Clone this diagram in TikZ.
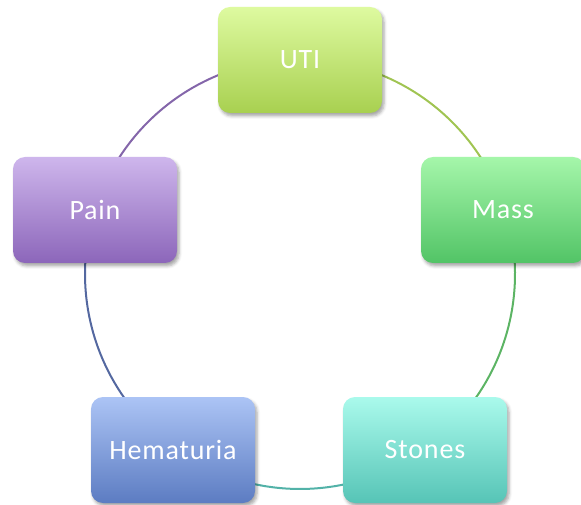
\documentclass[tikz,border=0pt]{standalone}
\usepackage{fontspec}
\setmainfont{Carlito}[LetterSpace=3]
\usetikzlibrary{shadows.blur}
\definecolor{utiT}{RGB}{222,250,160}
\definecolor{utiB}{RGB}{168,208,80}
\definecolor{massT}{RGB}{165,246,170}
\definecolor{massB}{RGB}{82,196,102}
\definecolor{stoT}{RGB}{170,250,236}
\definecolor{stoB}{RGB}{86,196,182}
\definecolor{hemT}{RGB}{172,196,245}
\definecolor{hemB}{RGB}{92,124,194}
\definecolor{paiT}{RGB}{206,182,236}
\definecolor{paiB}{RGB}{140,102,186}
\definecolor{arcUTI}{RGB}{160,196,82}
\definecolor{arcMass}{RGB}{92,180,100}
\definecolor{arcSto}{RGB}{82,178,168}
\definecolor{arcHem}{RGB}{84,104,160}
\definecolor{arcPai}{RGB}{132,102,170}
\tikzset{
  cyclebox/.style={rectangle, rounded corners=12pt, minimum width=164pt,
    minimum height=106pt, inner sep=0pt, text=white,
    font=\fontsize{28}{33}\selectfont,
    blur shadow={shadow xshift=2pt, shadow yshift=-3pt, shadow blur radius=3pt, shadow opacity=35}},
  cyclearc/.style={line width=2pt},
}
\begin{document}
\begin{tikzpicture}[x=1pt,y=1pt]
\useasboundingbox (0,0) rectangle (581,504);
\coordinate (c) at (300,230);
\def\R{215}
\draw[cyclearc, arcUTI] (c) ++(90:\R) arc[start angle=90, end angle=17.7, radius=\R];
\draw[cyclearc, arcMass] (c) ++(17.7:\R) arc[start angle=17.7, end angle=-54.6, radius=\R];
\draw[cyclearc, arcSto] (c) ++(-54.6:\R) arc[start angle=-54.6, end angle=-125.8, radius=\R];
\draw[cyclearc, arcHem] (c) ++(-125.8:\R) arc[start angle=-125.8, end angle=-197.3, radius=\R];
\draw[cyclearc, arcPai] (c) ++(162.7:\R) arc[start angle=162.7, end angle=90, radius=\R];
\node[cyclebox, top color=utiT, bottom color=utiB] (uti) at (300,444) {UTI};
\node[cyclebox, top color=massT, bottom color=massB] (mass) at (503,294) {Mass};
\node[cyclebox, top color=stoT, bottom color=stoB] (stones) at (425,54) {Stones};
\node[cyclebox, top color=hemT, bottom color=hemB] (hem) at (173,54) {Hematuria};
\node[cyclebox, top color=paiT, bottom color=paiB] (pain) at (95,294) {Pain};
\end{tikzpicture}
\end{document}
